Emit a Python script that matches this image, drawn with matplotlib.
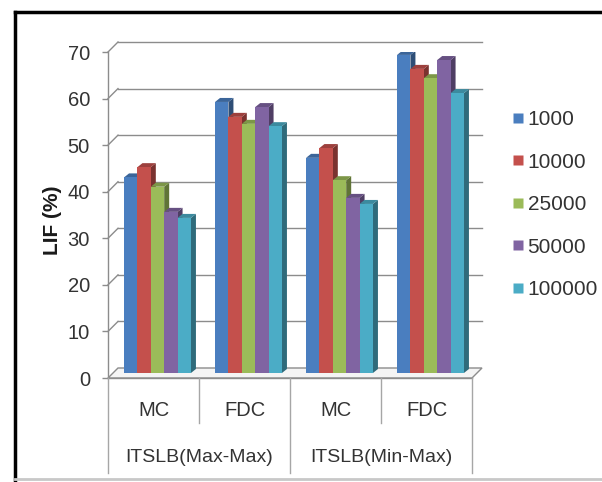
import numpy as np
import matplotlib.pyplot as plt
from matplotlib.patches import Polygon
from matplotlib.lines import Line2D
from matplotlib.colors import to_rgb

plt.rcParams["font.family"] = ["Liberation Sans", "DejaVu Sans"]
plt.rcParams["font.size"] = 14

categories = ["MC", "FDC", "MC", "FDC"]
groups = ["ITSLB(Max-Max)", "ITSLB(Min-Max)"]
series = ["1000", "10000", "25000", "50000", "100000"]
colors = ["#4a7ebf", "#c4504c", "#9bbb59", "#8064a2", "#4bacc6"]

# LIF (%) per series, one value per category
lif = {
    "1000":   [42.0, 58.2, 46.2, 68.3],
    "10000":  [44.2, 55.0, 48.3, 65.3],
    "25000":  [40.0, 53.5, 41.4, 63.3],
    "50000":  [34.6, 57.1, 37.6, 67.2],
    "100000": [33.3, 53.0, 36.3, 60.1],
}

W, H = 602, 482
fig = plt.figure(figsize=(W / 100, H / 100), dpi=100)
ax = fig.add_axes([108 / W, (H - 378) / H, 364 / W, 326 / H])
ax.set_xlim(0, 4)
ax.set_ylim(0, 70)

# pixel -> data unit factors
XU = 4 / 364.0
YU = 70 / 326.0
grid_c = "#8c8c8c"
txt_c = "#333333"

# back wall: gridlines pushed back and up, joined to the front axis
wall_dx, wall_dy = 10 * XU, 10 * YU
for v in range(10, 80, 10):
    ax.plot([0, wall_dx], [v, v + wall_dy], color=grid_c, lw=1, clip_on=False, zorder=1)
    ax.plot([wall_dx, 4 + wall_dx], [v + wall_dy, v + wall_dy], color=grid_c, lw=1,
            clip_on=False, zorder=1)

# floor
floor = Polygon([(0, 0), (4, 0), (4 + wall_dx, wall_dy), (wall_dx, wall_dy)],
                closed=True, facecolor="#f4f4f4", edgecolor=grid_c, lw=1, clip_on=False,
                zorder=1)
ax.add_patch(floor)

# bars: front face plus side and top faces for depth
off_x, off_y = 4 * XU, 5 * YU
dep_x, dep_y = 5 * XU, 4 * YU
bw = 0.147
n = len(series)
x = np.arange(len(categories)) + 0.5
z = 3
for ci in range(len(categories)):
    for si, s in enumerate(series):
        v = lif[s][ci]
        xc = x[ci] + off_x + (si - (n - 1) / 2) * bw
        x0, x1 = xc - bw / 2, xc + bw / 2
        b, t = off_y, off_y + v
        c = np.array(to_rgb(colors[si]))
        side = Polygon([(x1, b), (x1 + dep_x, b + dep_y), (x1 + dep_x, t + dep_y), (x1, t)],
                       closed=True, facecolor=c * 0.62, edgecolor="none", zorder=z)
        top = Polygon([(x0, t), (x0 + dep_x, t + dep_y), (x1 + dep_x, t + dep_y), (x1, t)],
                      closed=True, facecolor=c * 0.8, edgecolor="none", zorder=z)
        ax.add_patch(side)
        ax.add_patch(top)
        ax.bar(xc, v, width=bw, bottom=b, color=colors[si], edgecolor="none", zorder=z + 1)
        z += 2

for sp in ax.spines.values():
    sp.set_visible(False)
ax.plot([0, 0], [0, 70], color=grid_c, lw=1, clip_on=False, zorder=2)
ax.plot([0, 4], [0, 0], color=grid_c, lw=1, clip_on=False, zorder=2)
ax.set_xticks([])
ax.set_yticks(range(0, 80, 10))
ax.tick_params(axis="y", length=4, width=1, color=grid_c, pad=9, labelcolor=txt_c,
               labelsize=14.5)

# two-level category axis
for i in range(5):
    low = -95 * YU if i % 2 == 0 else -45 * YU
    ax.plot([i, i], [0, low], color="#a6a6a6", lw=1, clip_on=False, zorder=2)
for ci, cat in enumerate(categories):
    ax.text(x[ci], -33 * YU, cat, ha="center", va="center", color=txt_c, clip_on=False,
            fontsize=14.5)
for gi, g in enumerate(groups):
    ax.text(2 * gi + 1, -79 * YU, g, ha="center", va="center", color=txt_c, clip_on=False)

fig.text(52 / W, 1 - 220 / H, "LIF (%)", rotation=90, ha="center", va="center",
         fontsize=15, fontweight="bold", color="#1a1a1a")

handles = [Line2D([], [], marker="s", linestyle="none", markersize=7, color=c,
                  markeredgecolor="none") for c in colors]
ax.legend(handles, series, loc="upper left", bbox_to_anchor=(513 / W, 1 - 110 / H),
          bbox_transform=fig.transFigure, frameon=False, handlelength=0.5,
          handletextpad=0.2, labelspacing=1.13, borderpad=0, borderaxespad=0,
          fontsize=15, labelcolor=txt_c)

# outer border
fig.add_artist(Line2D([15 / W, 1.0], [1 - 12 / H, 1 - 12 / H], color="black", lw=2.5,
                      transform=fig.transFigure))
fig.add_artist(Line2D([15 / W, 15 / W], [1 - 12 / H, 0.0], color="black", lw=2.5,
                      transform=fig.transFigure))
fig.add_artist(Line2D([15 / W, 1.0], [1 - 479 / H, 1 - 479 / H], color="#c8c8c8", lw=2,
                      transform=fig.transFigure))

fig.savefig("out.png", dpi=100)
